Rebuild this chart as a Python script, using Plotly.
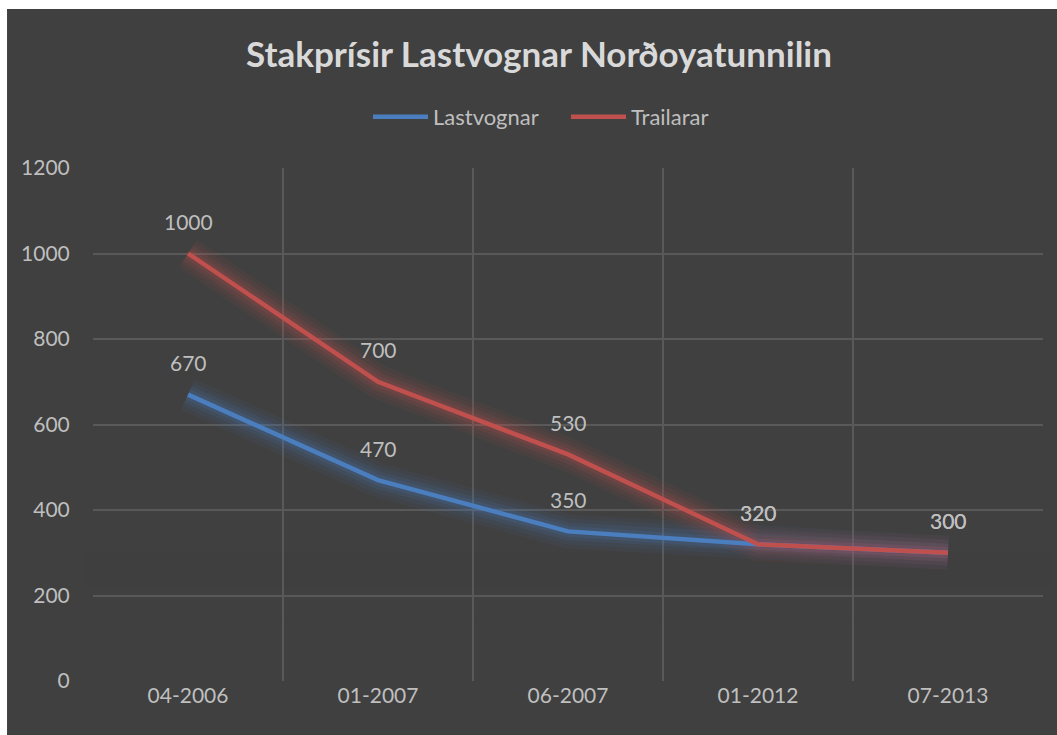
import plotly.graph_objects as go

categories = ["04-2006", "01-2007", "06-2007", "01-2012", "07-2013"]
lastvognar = [670, 470, 350, 320, 300]
trailarar = [1000, 700, 530, 320, 300]
y_ticks = [0, 200, 400, 600, 800, 1000, 1200]

BG = "#404040"
GRID = "#595959"
TXT = "#BFBFBF"
BLUE = "#4A7EBF"
RED = "#C0504D"
FONT = "Lato"

W, H = 1057, 735

fig = go.Figure()

# glow layers
for col, vals in [(BLUE, lastvognar), (RED, trailarar)]:
    for w, op in [(34, 0.06), (26, 0.08), (18, 0.11), (11, 0.15)]:
        fig.add_trace(go.Scatter(x=categories, y=vals, mode="lines",
                                 line=dict(color=col, width=w), opacity=op,
                                 showlegend=False, hoverinfo="skip"))

fig.add_trace(go.Scatter(x=categories, y=lastvognar, mode="lines", name="Lastvognar",
                         line=dict(color=BLUE, width=4.5)))
fig.add_trace(go.Scatter(x=categories, y=trailarar, mode="lines", name="Trailarar",
                         line=dict(color=RED, width=4.5)))

annotations = []
for vals in [lastvognar, trailarar]:
    for c, v in zip(categories, vals):
        annotations.append(dict(x=c, y=v, xref="x", yref="y", text=str(v), showarrow=False,
                                yshift=32, font=dict(family=FONT, size=21, color=TXT)))

# plot area in px: left 93, right 1043, top 168, bottom 681
shapes = [
    dict(type="rect", xref="paper", yref="paper", x0=-0.0905, x1=1.03, y0=-0.2, y1=1.3099,
         fillcolor=BG, line=dict(width=0), layer="below"),
    # fade of grid toward bottom
    dict(type="rect", xref="paper", yref="y", x0=-0.01, x1=1.01, y0=-5, y1=140,
         fillcolor=BG, line=dict(width=0), layer="between"),
    dict(type="rect", xref="paper", yref="y", x0=-0.01, x1=1.01, y0=140, y1=220,
         fillcolor=BG, opacity=0.7, line=dict(width=0), layer="between"),
    dict(type="rect", xref="paper", yref="y", x0=-0.01, x1=1.01, y0=220, y1=300,
         fillcolor=BG, opacity=0.35, line=dict(width=0), layer="between"),
]

fig.update_layout(
    width=W, height=H,
    margin=dict(l=93, r=14, t=168, b=54),
    paper_bgcolor="white",
    plot_bgcolor="rgba(0,0,0,0)",
    title=dict(text="<b>Stakprísir Lastvognar Norðoyatunnilin</b>", x=539 / W, xanchor="center",
               y=1 - 55 / H, yanchor="middle", font=dict(family=FONT, size=35, color="#D9D9D9")),
    legend=dict(orientation="h", x=(368 - 93) / 950, xanchor="left", y=1.0994, yanchor="middle",
                itemwidth=55, entrywidth=128, font=dict(family=FONT, size=22, color=TXT),
                bgcolor="rgba(0,0,0,0)"),
    xaxis=dict(type="category", range=[-0.5, 4.5], tickson="boundaries", showgrid=True,
               gridcolor=GRID, gridwidth=1.5, ticks="outside", ticklen=18,
               tickcolor="rgba(0,0,0,0)", showline=False, zeroline=False,
               tickfont=dict(family=FONT, size=21, color=TXT)),
    yaxis=dict(range=[0, 1200], tickvals=y_ticks, showgrid=True, gridcolor=GRID, gridwidth=1.5,
               ticks="outside", ticklen=18, tickcolor="rgba(0,0,0,0)", zeroline=False,
               showline=False, tickfont=dict(family=FONT, size=21, color=TXT)),
    annotations=annotations,
    shapes=shapes,
    showlegend=True,
)

fig.write_html("out.html", config={"displayModeBar": False},
               post_script="document.body.style.margin='0';"
                           "document.documentElement.style.overflow='hidden';")
